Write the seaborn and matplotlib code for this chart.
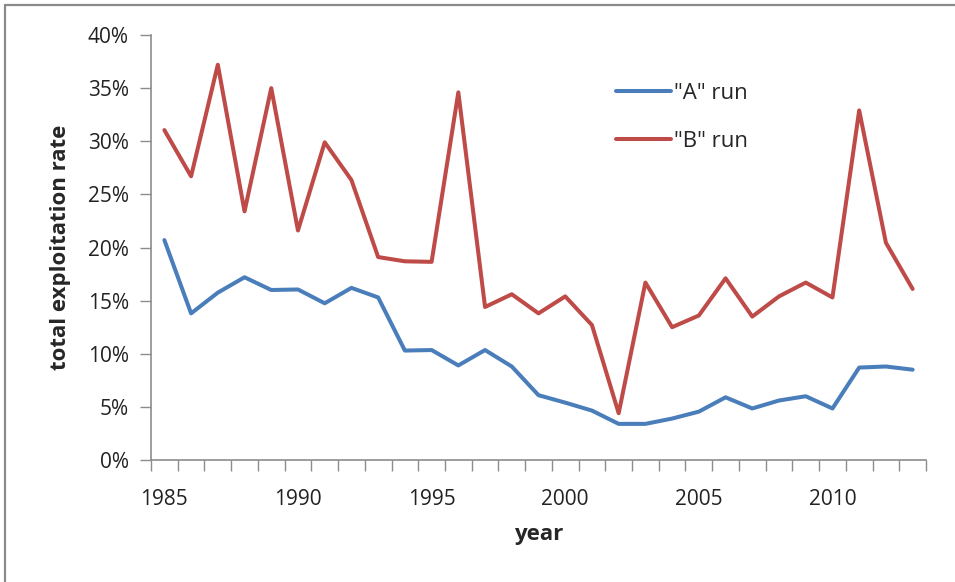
import matplotlib
matplotlib.use("Agg")
import matplotlib.pyplot as plt
from matplotlib.lines import Line2D
import seaborn as sns
import pandas as pd
import numpy as np

years = list(range(1985, 2014))
run_a = [20.7, 13.8, 15.75, 17.2, 16.0, 16.05, 14.75, 16.2, 15.3, 10.3,
         10.35, 8.9, 10.35, 8.8, 6.1, 5.4, 4.65, 3.4, 3.4, 3.9,
         4.55, 5.9, 4.85, 5.6, 6.0, 4.85, 8.7, 8.8, 8.5]
run_b = [31.05, 26.7, 37.2, 23.4, 35.0, 21.6, 29.9, 26.35, 19.1, 18.7,
         18.65, 34.6, 14.4, 15.6, 13.8, 15.4, 12.7, 4.4, 16.7, 12.5,
         13.6, 17.1, 13.5, 15.4, 16.7, 15.3, 32.9, 20.45, 16.1]
series_names = ['"A" run', '"B" run']
colors = ["#4a7ebb", "#be4b48"]
y_ticks = [0, 5, 10, 15, 20, 25, 30, 35, 40]
x_label_years = [1985, 1990, 1995, 2000, 2005, 2010]

sns.set_theme(style="white")
plt.rcParams['font.family'] = ['Open Sans', 'Liberation Sans', 'DejaVu Sans']

df = pd.DataFrame({
    "idx": list(range(len(years))) * 2,
    "value": run_a + run_b,
    "series": [series_names[0]] * len(years) + [series_names[1]] * len(years),
})

fig = plt.figure(figsize=(9.55, 5.82), dpi=100)
ax = fig.add_axes([151/955, 1 - 460/582, 775/955, 425/582])

sns.lineplot(data=df, x="idx", y="value", hue="series", palette=colors,
             linewidth=2.9, ax=ax, legend=False)

ax.set_xlim(-0.5, len(years) - 0.5)
ax.set_ylim(0, 40)

ax.set_yticks(y_ticks)
ax.set_yticklabels([f"{v}%" for v in y_ticks], fontsize=15, color="#222222")
ax.set_xticks([years.index(y) for y in x_label_years])
ax.set_xticklabels([str(y) for y in x_label_years], fontsize=15, color="#222222")
ax.set_xticks(np.arange(-0.5, len(years), 1.0), minor=True)
ax.tick_params(axis="x", which="major", length=0, pad=21)
ax.tick_params(axis="x", which="minor", length=8, width=1, color="#8c8c8c", direction="out")
ax.tick_params(axis="y", which="major", length=8, width=1, color="#8c8c8c", direction="out", pad=8)
ax.tick_params(axis="both", which="both", bottom=True, left=True)

for s in ["top", "right"]:
    ax.spines[s].set_visible(False)
for s in ["left", "bottom"]:
    ax.spines[s].set_color("#8c8c8c")
    ax.spines[s].set_linewidth(1.2)

ax.set_xlabel("year", fontsize=16, fontweight="bold", labelpad=10)
ax.set_ylabel("total exploitation rate", fontsize=16, fontweight="bold", labelpad=12)

handles = [Line2D([0], [0], color=c, lw=2.9) for c in colors]
ax.legend(handles, series_names, loc="center left", bbox_to_anchor=(0.574, 0.806),
          frameon=False, fontsize=16, handlelength=2.5, handletextpad=0.1,
          labelspacing=1.2)

fig.add_artist(Line2D([5/955, 1], [1 - 5/582, 1 - 5/582], color="#8a8a8a", lw=1.6,
                      transform=fig.transFigure))
fig.add_artist(Line2D([5/955, 5/955], [0, 1 - 5/582], color="#8a8a8a", lw=1.6,
                      transform=fig.transFigure))

fig.savefig("out.png", dpi=100)
